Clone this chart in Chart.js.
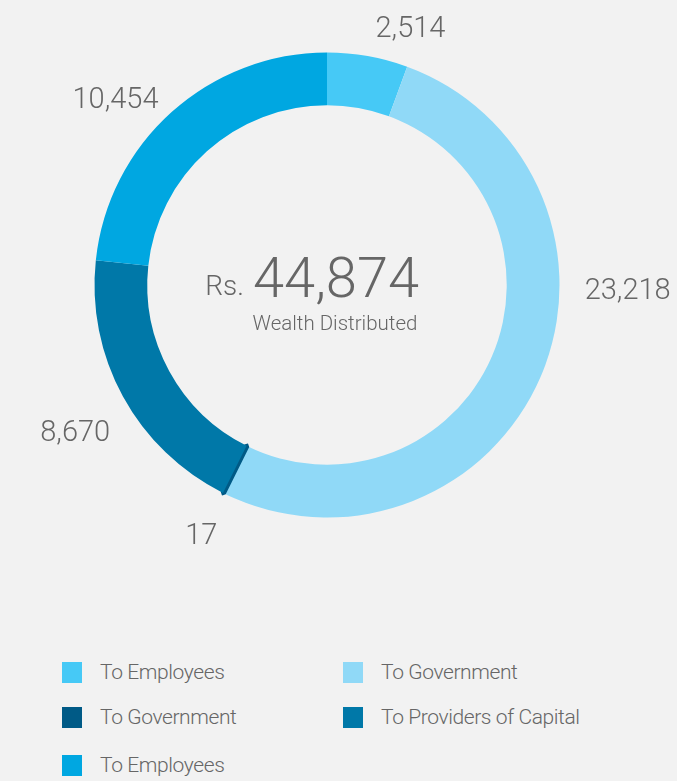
<!DOCTYPE html>
<html>
<head>
<meta charset="utf-8">
<script src="https://cdn.jsdelivr.net/npm/chart.js@4.4.1/dist/chart.umd.min.js"></script>
<style>
  html, body { margin: 0; padding: 0; background: #f2f2f2; }
  body { width: 677px; height: 781px; position: relative; overflow: hidden; font-family: Roboto, "Noto Sans", sans-serif; }
  #wrap { position: absolute; left: 0; top: 0; width: 677px; height: 570px; }
  #legend { position: absolute; left: 62px; top: 660px; display: grid; grid-template-columns: 281px 300px; row-gap: 21px; }
  .item { display: flex; align-items: center; height: 24px; color: #666; font-size: 21px; font-weight: 300; letter-spacing: -0.4px; }
  .item i { display: inline-block; width: 20px; height: 21px; margin-right: 18px; flex: none; }
  .item:nth-child(n+5) { margin-top: 3px; }
</style>
</head>
<body>
<div id="wrap"><canvas id="wealth"></canvas></div>
<div id="legend"></div>
<script>
// wealth distribution, Rs. millions
const labels  = ['To Employees', 'To Government', 'To Government', 'To Providers of Capital', 'To Employees'];
const values  = [2514, 23218, 17, 8670, 10454];
const valueLabels = ['2,514', '23,218', '17', '8,670', '10,454'];
const totalLabel = '44,874';
const colors  = ['#46c9f6', '#90d9f7', '#005a86', '#0078a8', '#00a7e1'];

const textC = '#666666';

// value labels around the ring + the total in the middle
const ringText = {
  id: 'ringText',
  afterDraw(chart, args, opts) {
    const ctx = chart.ctx;
    const arcs = chart.getDatasetMeta(0).data;
    if (!arcs.length) return;
    const cx = arcs[0].x, cy = arcs[0].y;
    ctx.save();
    ctx.fillStyle = textC;

    ctx.font = '300 29px Roboto';
    ctx.textAlign = 'center';
    ctx.textBaseline = 'middle';
    arcs.forEach((arc, i) => {
      const a = (arc.startAngle + arc.endAngle) / 2 + opts.shift[i] * Math.PI / 180;
      const ux = Math.cos(a), uy = Math.sin(a);
      const w = ctx.measureText(valueLabels[i]).width, h = 20;
      const r = arc.outerRadius + opts.pad[i] + (w / 2) * Math.abs(ux) + (h / 2) * Math.abs(uy);
      ctx.fillText(valueLabels[i], cx + r * ux, cy + r * uy);
    });

    ctx.textBaseline = 'alphabetic';
    ctx.textAlign = 'left';
    ctx.font = '300 56px Roboto';
    ctx.fillText(totalLabel, cx - 74, cy + 12);
    ctx.textAlign = 'right';
    ctx.font = '300 28px Roboto';
    ctx.fillText('Rs.', cx - 83, cy + 10);
    ctx.textAlign = 'center';
    ctx.font = '300 20.5px Roboto';
    ctx.fillText('Wealth Distributed', cx + 8, cy + 45);
    ctx.restore();
  }
};

const chart = new Chart(document.getElementById('wealth'), {
  type: 'doughnut',
  data: {
    labels,
    datasets: [{
      data: values,
      backgroundColor: colors,
      borderColor: colors,
      borderWidth: [0, 0, 5, 0, 0], // keeps the tiny slice visible
    }],
  },
  options: {
    responsive: true,
    maintainAspectRatio: false,
    animation: false,
    events: [],
    cutout: '77.3%',
    layout: { padding: { left: 92, right: 115, top: 50, bottom: 50 } },
    plugins: {
      legend: { display: false },
      tooltip: { enabled: false },
      ringText: { shift: [8, -22, 0, -2, -7], pad: [16, 25, 33, 25, 9] },
    },
  },
  plugins: [ringText],
});

// two-column legend under the chart
const legendEl = document.getElementById('legend');
labels.forEach((lab, i) => {
  const div = document.createElement('div');
  div.className = 'item';
  div.innerHTML = '<i style="background:' + colors[i] + '"></i>' + lab;
  legendEl.appendChild(div);
});
</script>
</body>
</html>
